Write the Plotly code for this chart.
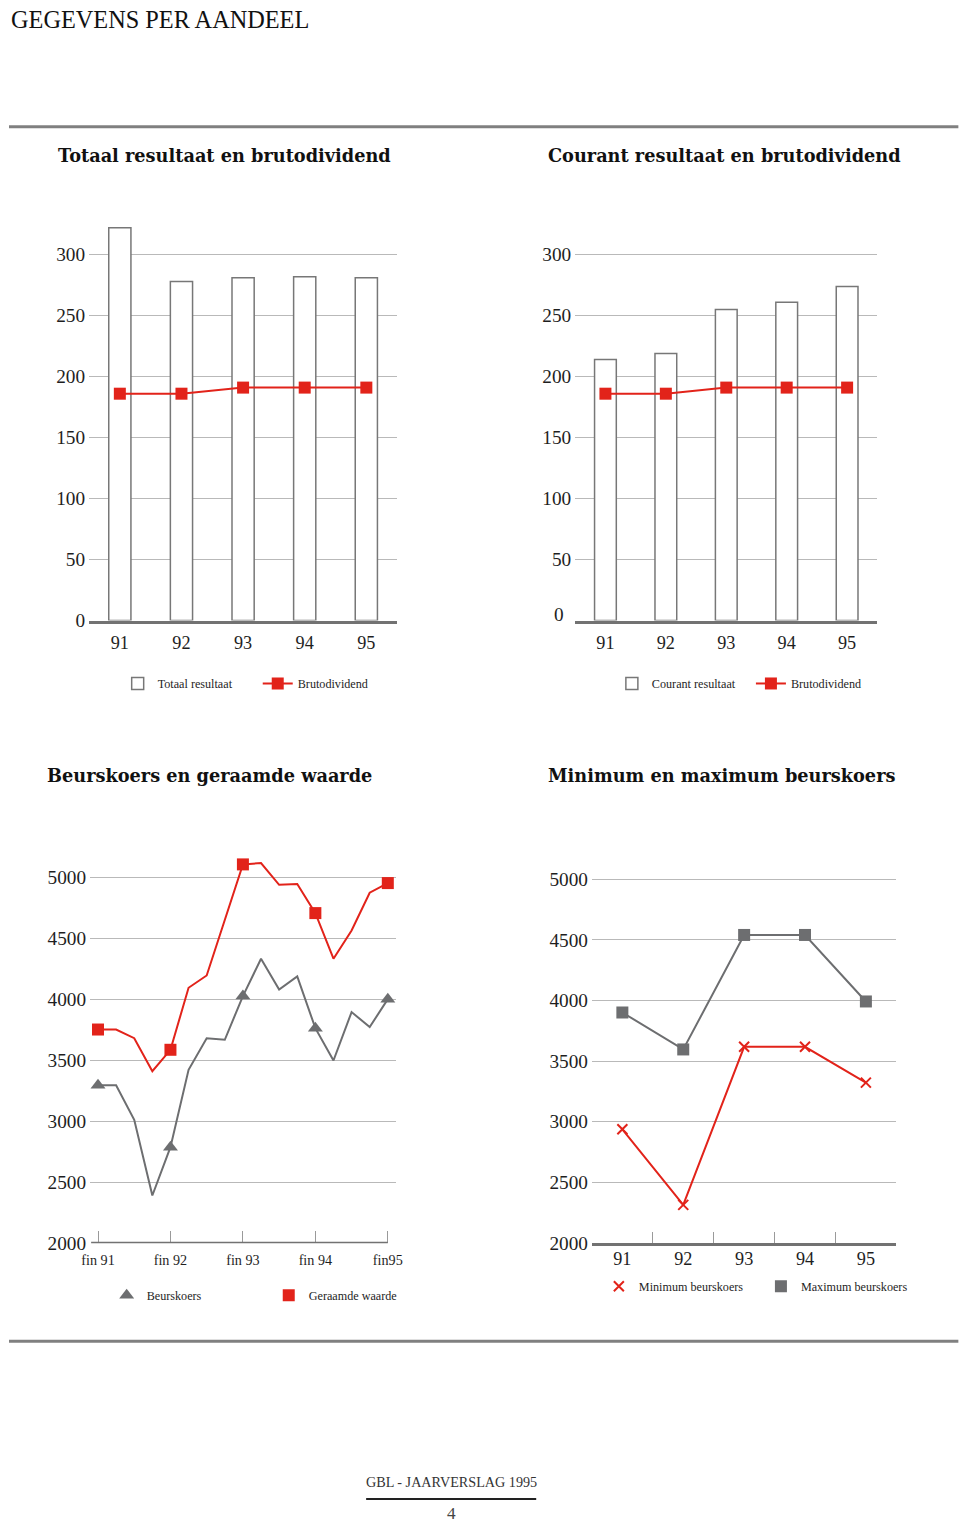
import plotly.graph_objects as go

W, H = 960, 1535

# ---------------- data ----------------
years = ["91", "92", "93", "94", "95"]
totaal_resultaat = [322, 278, 281, 282, 281]
courant_resultaat = [214, 219, 255, 261, 274]
brutodividend = [186, 186, 191, 191, 191]

kwartalen = ["12/91", "3/92", "6/92", "9/92", "12/92", "3/93", "6/93", "9/93", "12/93",
             "3/94", "6/94", "9/94", "12/94", "3/95", "6/95", "9/95", "12/95"]
jaareinden = ["12/91", "12/92", "12/93", "12/94", "12/95"]
fin_labels = ["fin 91", "fin 92", "fin 93", "fin 94", "fin95"]
beurskoers = [3295, 3295, 3011, 2391, 2787, 3421, 3680, 3667, 4025,
              4331, 4079, 4186, 3762, 3497, 3894, 3771, 4000]
geraamde_waarde = [3751, 3751, 3680, 3410, 3585, 4093, 4194, 4650, 5104,
                   5115, 4937, 4943, 4705, 4331, 4563, 4872, 4951]

minimum_beurskoers = [2937, 2313, 3618, 3618, 3322]
maximum_beurskoers = [3901, 3596, 4541, 4541, 3992]

# ---------------- style ----------------
RED = "#e2231a"
GREY = "#6d6e70"
BAR_LINE = "#777777"
GRID = "#b9b9b9"
AXIS = "#727272"
TXT = "#1e1e1e"
SERIF = "Liberation Serif"

# the photographed page is slightly offset/scaled; lay out in target-picture pixels
SX, OX = 0.984, 9.0
SY, OY = 0.9907, 3.2
FS = 0.987


def X(p):
    return (p - OX) / SX


def Y(p):
    return (p - OY) / SY


def F(s):
    return s / FS


def dx(a, b):
    return [X(a) / W, X(b) / W]


def dy(top, bottom):
    return [1 - Y(bottom) / H, 1 - Y(top) / H]


TITLE_FONT = dict(family="DejaVu Serif", size=F(17.5), color="#111111")

fig = go.Figure()

# chart 1
fig.add_trace(go.Bar(x=years, y=totaal_resultaat, width=0.36, name="Totaal resultaat",
                     marker=dict(color="white", line=dict(color=BAR_LINE, width=1.5)),
                     xaxis="x", yaxis="y", legend="legend"))
fig.add_trace(go.Scatter(x=years, y=brutodividend, mode="lines+markers", name="Brutodividend",
                         line=dict(color=RED, width=2),
                         marker=dict(symbol="square", size=12, color=RED),
                         xaxis="x", yaxis="y", legend="legend2", cliponaxis=False))
# chart 2
fig.add_trace(go.Bar(x=years, y=courant_resultaat, width=0.36, name="Courant resultaat",
                     marker=dict(color="white", line=dict(color=BAR_LINE, width=1.5)),
                     xaxis="x2", yaxis="y2", legend="legend3"))
fig.add_trace(go.Scatter(x=years, y=brutodividend, mode="lines+markers", name="Brutodividend",
                         line=dict(color=RED, width=2),
                         marker=dict(symbol="square", size=12, color=RED),
                         xaxis="x2", yaxis="y2", legend="legend4", cliponaxis=False))

# chart 3
idx = [kwartalen.index(k) for k in jaareinden]
fig.add_trace(go.Scatter(x=kwartalen, y=beurskoers, mode="lines", showlegend=False,
                         line=dict(color=GREY, width=2), xaxis="x3", yaxis="y3", cliponaxis=False))
fig.add_trace(go.Scatter(x=kwartalen, y=geraamde_waarde, mode="lines", showlegend=False,
                         line=dict(color=RED, width=2), xaxis="x3", yaxis="y3", cliponaxis=False))
fig.add_trace(go.Scatter(x=jaareinden, y=[beurskoers[i] for i in idx], mode="markers",
                         name="Beurskoers", marker=dict(symbol="triangle-up", size=13, color=GREY),
                         xaxis="x3", yaxis="y3", legend="legend5", cliponaxis=False))
fig.add_trace(go.Scatter(x=jaareinden, y=[geraamde_waarde[i] for i in idx], mode="markers",
                         name="Geraamde waarde", marker=dict(symbol="square", size=12, color=RED),
                         xaxis="x3", yaxis="y3", legend="legend6", cliponaxis=False))

# chart 4
fig.add_trace(go.Scatter(x=years, y=maximum_beurskoers, mode="lines", showlegend=False,
                         line=dict(color=GREY, width=2), xaxis="x4", yaxis="y4", cliponaxis=False))
fig.add_trace(go.Scatter(x=years, y=minimum_beurskoers, mode="lines", showlegend=False,
                         line=dict(color=RED, width=2), xaxis="x4", yaxis="y4", cliponaxis=False))
fig.add_trace(go.Scatter(x=years, y=minimum_beurskoers, mode="markers", name="Minimum beurskoers",
                         marker=dict(symbol="x-thin", size=10, color=RED,
                                     line=dict(color=RED, width=2)),
                         xaxis="x4", yaxis="y4", legend="legend7", cliponaxis=False))
fig.add_trace(go.Scatter(x=years, y=maximum_beurskoers, mode="markers", name="Maximum beurskoers",
                         marker=dict(symbol="square", size=12, color=GREY),
                         xaxis="x4", yaxis="y4", legend="legend8", cliponaxis=False))

yfont = dict(family=SERIF, size=F(19), color=TXT)
xfont = dict(family=SERIF, size=F(18), color=TXT)

common_y = dict(showgrid=True, gridcolor=GRID, gridwidth=1, zeroline=False, showline=False,
                ticks="", tickfont=yfont, ticklabelstandoff=3)
common_x = dict(showgrid=False, zeroline=False, showline=True, linecolor=AXIS, linewidth=3,
                tickfont=xfont, type="category")

layout = dict(
    width=W, height=H, margin=dict(l=0, r=0, t=0, b=0),
    paper_bgcolor="white", plot_bgcolor="white",
    showlegend=True,
    xaxis=dict(domain=dx(89, 397), anchor="y", range=[-0.5, 4.5], ticks="",
               ticklabelstandoff=4, **common_x),
    yaxis=dict(domain=dy(217.4, 620), anchor="x", range=[0, 330],
               tickvals=[0, 50, 100, 150, 200, 250, 300], **common_y),
    xaxis2=dict(domain=dx(575, 877), anchor="y2", range=[-0.5, 4.5], ticks="",
                ticklabelstandoff=4, **common_x),
    yaxis2=dict(domain=dy(217.4, 620), anchor="x2", range=[0, 330],
                tickvals=[50, 100, 150, 200, 250, 300], **common_y),
    xaxis3=dict(domain=dx(90, 396), anchor="y3", range=[-0.44, 16.46],
                tickvals=jaareinden, ticktext=fin_labels, ticks="inside", ticklen=12,
                tickcolor="#9a9a9a", tickwidth=1, ticklabelstandoff=7,
                **{**common_x, "showline": False,
                   "tickfont": dict(family=SERIF, size=F(14), color=TXT)}),
    yaxis3=dict(domain=dy(858.4, 1243), anchor="x3", range=[2000, 5150],
                tickvals=[2000, 2500, 3000, 3500, 4000, 4500, 5000], **common_y),
    xaxis4=dict(domain=dx(591.7, 896), anchor="y4", range=[-0.5, 4.5],
                ticks="inside", tickson="boundaries", ticklen=11, tickcolor="#9a9a9a",
                tickwidth=1, ticklabelstandoff=-3, **common_x),
    yaxis4=dict(domain=dy(872.9, 1242.6), anchor="x4", range=[2000, 5050],
                tickvals=[2000, 2500, 3000, 3500, 4000, 4500, 5000], **common_y),
)

# single-item legends placed under their charts: (text start x, centre y)
legend_pos = {
    "legend": (157, 683), "legend2": (297, 683),
    "legend3": (651, 683), "legend4": (790, 683),
    "legend5": (146, 1295), "legend6": (308, 1295),
    "legend7": (638, 1286), "legend8": (800, 1286),
}
for name, (tx, ty) in legend_pos.items():
    layout[name] = dict(x=(X(tx) - 40) / W, xanchor="left", y=1 - Y(ty) / H, yanchor="middle",
                        orientation="h", bgcolor="rgba(0,0,0,0)", borderwidth=0,
                        font=dict(family=SERIF, size=F(12), color=TXT))

fig.update_layout(**layout)

# titles and page text (positions in target-picture pixels, kept inside the page)
annotations = [
    dict(text="GEGEVENS PER AANDEEL", x=0, y=0, xanchor="left", yanchor="top",
         font=dict(family=SERIF, size=F(24), color="#111111")),
    dict(text="<b>Totaal resultaat en brutodividend</b>", x=X(56), y=Y(155), xanchor="left",
         font=TITLE_FONT),
    dict(text="<b>Courant resultaat en brutodividend</b>", x=X(546), y=Y(155), xanchor="left",
         font=TITLE_FONT),
    dict(text="<b>Beurskoers en geraamde waarde</b>", x=X(45), y=Y(775), xanchor="left",
         font=TITLE_FONT),
    dict(text="<b>Minimum en maximum beurskoers</b>", x=X(546), y=Y(775), xanchor="left",
         font=TITLE_FONT),
    dict(text="0", x=X(566), y=Y(614), xanchor="right",
         font=yfont),
    dict(text="GBL - JAARVERSLAG 1995", x=X(451), y=Y(1482), xanchor="center",
         font=dict(family=SERIF, size=F(14), color="#333333")),
    dict(text="4", x=X(451), y=H, xanchor="center", yanchor="bottom", borderpad=0,
         font=dict(family=SERIF, size=F(17), color="#444444")),
]
for a in annotations:
    a.setdefault("yanchor", "middle")
    a.update(xref="paper", yref="paper", showarrow=False)
    a["x"] = a["x"] / W
    a["y"] = 1 - a["y"] / H
fig.update_layout(annotations=annotations)

rules = [
    dict(x0=0, x1=958, y=126, w=3, c="#808080"),
    dict(x0=0, x1=958, y=1341, w=3, c="#808080"),
    dict(x0=366, x1=536, y=1499, w=2, c="#222222"),
]
shapes = [
    dict(type="line", xref="paper", yref="paper", x0=max(X(r["x0"]), 0) / W, x1=X(r["x1"]) / W,
         y0=1 - Y(r["y"]) / H, y1=1 - Y(r["y"]) / H, line=dict(color=r["c"], width=r["w"]))
    for r in rules
]
# chart 3 base line ends at the last year-end tick
shapes.append(dict(type="line", xref="x3", yref="y3", x0=-0.38, x1=16, y0=2000, y1=2000,
                   line=dict(color=AXIS, width=3), layer="above"))
fig.update_layout(shapes=shapes)

page_css = ("document.documentElement.style.margin='0';"
            "document.body.style.margin='0';"
            "document.body.style.padding='0';"
            "document.documentElement.style.overflow='hidden';")
fig.write_html("out.html", config={"displayModeBar": False, "responsive": False},
               post_script="}); " + page_css + " (function(){")
